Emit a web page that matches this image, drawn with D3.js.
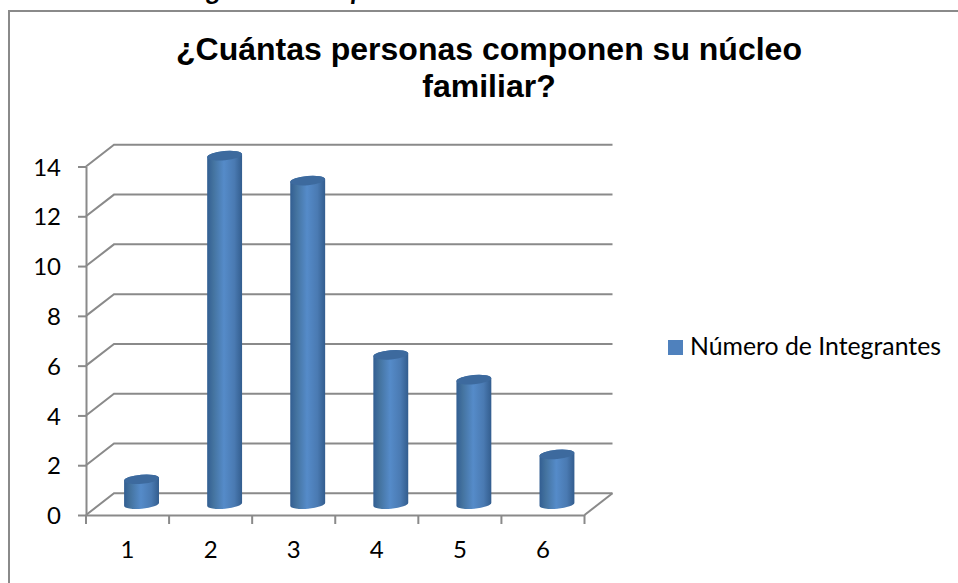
<!DOCTYPE html>
<html lang="es">
<head>
<meta charset="utf-8">
<style>
    html, body { margin: 0; padding: 0; background: #fff; overflow: hidden; }
    svg { display: block; }
</style>
</head>
<body>
<script src="https://cdn.jsdelivr.net/npm/d3@7"></script>
<script>
const categorias = ["1", "2", "3", "4", "5", "6"];
const integrantes = [1, 14, 13, 6, 5, 2];
const marcasY = [0, 2, 4, 6, 8, 10, 12, 14];
const tituloLineas = ["¿Cuántas personas componen su núcleo", "familiar?"];
const serieNombre = "Número de Integrantes";
const textoCortado = ["g", "p"];

const width = 958;
const height = 583;
const gris = "#8a8a8a";

// profundidad de la caja 3D
const fondoX = 28;
const fondoY = -21.7;

const svg = d3.select("body")
    .append("svg")
    .attr("width", width)
    .attr("height", height);

const x = d3.scaleBand()
    .domain(categorias)
    .range([86, 584.5])
    .paddingInner(0.58)
    .paddingOuter(0.29);

const y = d3.scaleLinear()
    .domain([0, 14])
    .range([515, 166.5]);

// degradado del cilindro
const grad = svg.append("defs")
    .append("linearGradient")
    .attr("id", "cilindro")
    .attr("x1", 0).attr("x2", 1)
    .attr("y1", 0).attr("y2", 0);
grad.append("stop").attr("offset", "0%").attr("stop-color", "#325e92");
grad.append("stop").attr("offset", "18%").attr("stop-color", "#44739f");
grad.append("stop").attr("offset", "48%").attr("stop-color", "#558bc9");
grad.append("stop").attr("offset", "78%").attr("stop-color", "#4a7ab2");
grad.append("stop").attr("offset", "100%").attr("stop-color", "#335d8e");

// marco del grafico (sin borde derecho ni inferior)
svg.append("path")
    .attr("d", "M9,583V11H958")
    .attr("fill", "none")
    .attr("stroke", gris)
    .attr("stroke-width", 2);

// trozos del texto de arriba, cortados por el borde
svg.append("g")
    .attr("font-family", "Lato")
    .attr("font-style", "italic")
    .attr("font-weight", "bold")
    .attr("font-size", 27)
    .attr("fill", "#000")
    .selectAll("text")
    .data(textoCortado)
    .enter().append("text")
    .attr("x", (d, i) => [207, 351][i])
    .attr("y", 0)
    .text(d => d);

// rejilla: pared lateral y pared del fondo
svg.append("g")
    .selectAll("path")
    .data(marcasY)
    .enter().append("path")
    .attr("d", d => {
        const y0 = y(d);
        return "M" + x.range()[0] + "," + y0 +
            "L" + (x.range()[0] + fondoX) + "," + (y0 + fondoY) +
            "H" + (x.range()[1] + fondoX);
    })
    .attr("fill", "none")
    .attr("stroke", gris)
    .attr("stroke-width", 2);

// suelo
svg.append("path")
    .attr("d", "M" + x.range()[1] + "," + y(0) + "l" + fondoX + "," + fondoY)
    .attr("fill", "none")
    .attr("stroke", gris)
    .attr("stroke-width", 2);

const ejeY = svg.append("g")
    .attr("transform", "translate(" + x.range()[0] + ",0)")
    .call(d3.axisLeft(y).tickValues(marcasY).tickSize(8).tickSizeOuter(0).tickPadding(17));

const ejeX = svg.append("g")
    .attr("transform", "translate(0," + y(0) + ")")
    .call(d3.axisBottom(x).tickSize(0).tickPadding(26));

// las marcas del eje x van entre categorias
const limites = [0, 1, 2, 3, 4, 5, 6];
ejeX.selectAll(".limite")
    .data(limites)
    .enter().append("line")
    .attr("class", "limite")
    .attr("x1", d => x.range()[0] + d * x.step())
    .attr("x2", d => x.range()[0] + d * x.step())
    .attr("y1", 0)
    .attr("y2", 9);

[ejeY, ejeX].forEach(eje => {
    eje.selectAll(".domain, line")
        .attr("stroke", gris)
        .attr("stroke-width", 2);
    eje.selectAll("text")
        .attr("font-family", "Lato")
        .attr("font-size", 24)
        .attr("fill", "#000");
});

// bajar un poco los numeros del eje y
ejeY.selectAll("text").attr("dy", "0.36em");

// cilindros
const rx = x.bandwidth() / 2;
const ry = 4.6;
const giro = -5;
const dy = rx * Math.sin(-giro * Math.PI / 180);

function cuerpo(d, i) {
    const cx = x(categorias[i]) + rx + fondoX / 2;
    const arriba = y(d) + fondoY / 2;
    const abajo = y(0) + fondoY / 2;
    return "M" + (cx - rx) + "," + (arriba + dy) +
        "L" + (cx - rx) + "," + (abajo + dy) +
        "A" + rx + "," + ry + "," + giro + ",0,0," + (cx + rx) + "," + (abajo - dy) +
        "L" + (cx + rx) + "," + (arriba - dy) +
        "A" + rx + "," + ry + "," + giro + ",0,0," + (cx - rx) + "," + (arriba + dy) + "Z";
}

const barras = svg.append("g")
    .selectAll("g")
    .data(integrantes)
    .enter().append("g");

barras.append("path")
    .attr("d", cuerpo)
    .attr("fill", "url(#cilindro)");

barras.append("ellipse")
    .attr("rx", rx)
    .attr("ry", ry)
    .attr("transform", (d, i) => {
        const cx = x(categorias[i]) + rx + fondoX / 2;
        return "translate(" + cx + "," + (y(d) + fondoY / 2) + ") rotate(" + giro + ")";
    })
    .attr("fill", "#3d6a9e");

// titulo
svg.append("g")
    .attr("font-family", "Liberation Sans")
    .attr("font-weight", "bold")
    .attr("font-size", 32)
    .attr("fill", "#000")
    .attr("text-anchor", "middle")
    .selectAll("text")
    .data(tituloLineas)
    .enter().append("text")
    .attr("x", 489)
    .attr("y", (d, i) => [60, 97][i])
    .text(d => d);

// leyenda
svg.append("rect")
    .attr("x", 668)
    .attr("y", 340)
    .attr("width", 15)
    .attr("height", 15)
    .attr("fill", "#4f81bd");

svg.append("text")
    .attr("x", 690)
    .attr("y", 355)
    .attr("font-family", "Lato")
    .attr("font-size", 24.8)
    .attr("fill", "#000")
    .text(serieNombre);
</script>
</body>
</html>
